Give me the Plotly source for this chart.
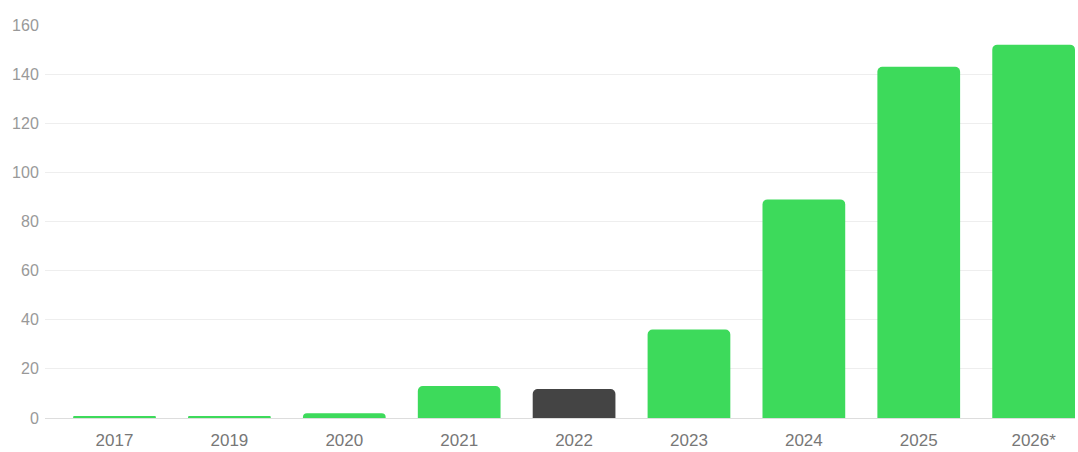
import plotly.graph_objects as go

years = ["2017", "2019", "2020", "2021", "2022", "2023", "2024", "2025", "2026*"]
values = [0.8, 0.8, 1.9, 13, 11.8, 36, 89, 143, 152]
colors = ["#3dda5b"] * 4 + ["#444444"] + ["#3dda5b"] * 4
y_ticks = [0, 20, 40, 60, 80, 100, 120, 140, 160]

fig = go.Figure(go.Bar(
    x=list(range(len(years))),
    y=values,
    marker=dict(color=colors, line=dict(width=0), cornerradius=5),
    width=0.72,
))

fig.update_layout(
    width=1078, height=452,
    margin=dict(l=45, r=3, t=25, b=34),
    paper_bgcolor="white", plot_bgcolor="white",
    showlegend=False,
    font=dict(family="Liberation Sans, Arial, sans-serif"),
)
fig.update_xaxes(
    range=[-0.605, 8.36],
    tickmode="array", tickvals=list(range(len(years))), ticktext=years,
    showgrid=False, zeroline=False, showline=False,
    tickfont=dict(size=17, color="#777777"),
    ticks="outside", ticklen=7, tickcolor="white",
    automargin=False,
)
fig.update_yaxes(
    range=[0, 160],
    tickmode="array", tickvals=y_ticks,
    showgrid=True, gridcolor="#eeeeee", gridwidth=1,
    zeroline=True, zerolinecolor="#dddddd", zerolinewidth=1,
    tickfont=dict(size=16, color="#999999"),
    ticks="outside", ticklen=2, tickcolor="white",
    automargin=False,
)

fig.write_html("out.html")
